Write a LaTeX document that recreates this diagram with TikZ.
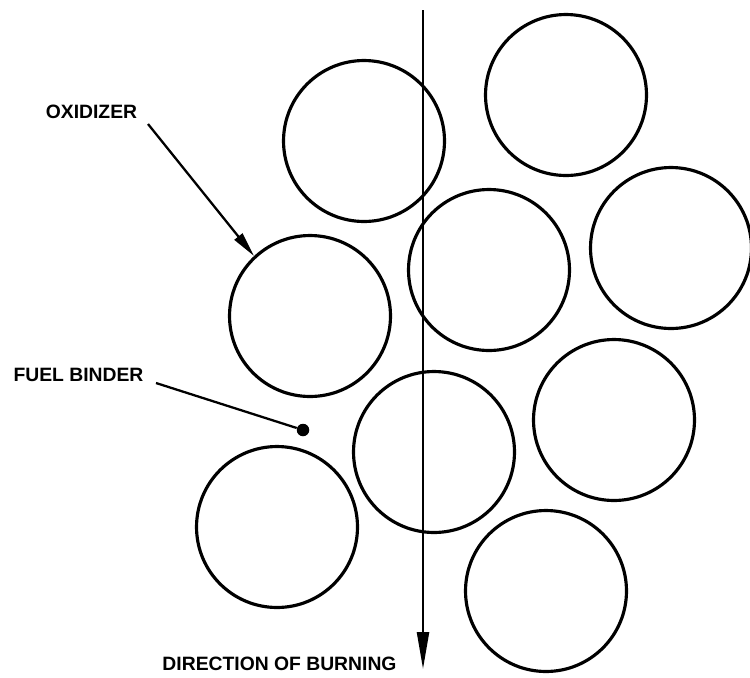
\documentclass[tikz,border=0pt]{standalone}
\usepackage{fontspec}
\setmainfont{Liberation Sans}
\usetikzlibrary{arrows.meta}
\begin{document}
\begin{tikzpicture}[x=0.02cm, y=-0.02cm]
        \tikzstyle{grain}=[draw, circle, line width=1.8pt, minimum size=3.22cm, inner sep=0pt];
        \tikzstyle{tag}=[inner sep=0pt, font=\bfseries\fontsize{11}{13}\selectfont];
        \tikzstyle{leader}=[line width=1.3pt];
        \useasboundingbox (0,0) rectangle (750,677);

        % oxidizer grains
        \node[grain] (g1) at (364,141) {};
        \node[grain] (g2) at (566,95) {};
        \node[grain] (g3) at (489,270) {};
        \node[grain] (g4) at (671,248) {};
        \node[grain] (g5) at (310,316) {};
        \node[grain] (g6) at (434,452) {};
        \node[grain] (g7) at (614,420) {};
        \node[grain] (g8) at (277,527) {};
        \node[grain] (g9) at (546,591) {};

        % labels
        \node[tag] (oxid) at (91.5,112) {OXIDIZER};
        \node[tag] (fuel) at (78.5,374.5) {FUEL BINDER};
        \node[tag] (burn) at (279.5,663.5) {DIRECTION OF BURNING};

        \coordinate (oxtail) at (148,124);
        \coordinate (fbtail) at (156,383);
        \node[circle, fill, inner sep=0pt, minimum size=0.25cm] (binder) at (303,430) {};
        \coordinate (burntop) at (423,10);
        \coordinate (burntip) at (423,669);

        \draw[leader, -{Triangle[length=0.5cm, width=0.2cm]}] (oxtail) -- (g5.133);
        \draw[leader] (fbtail) -- (binder);
        \draw[leader, -{Triangle[length=0.74cm, width=0.24cm]}] (burntop) -- (burntip);
    \end{tikzpicture}
\end{document}
